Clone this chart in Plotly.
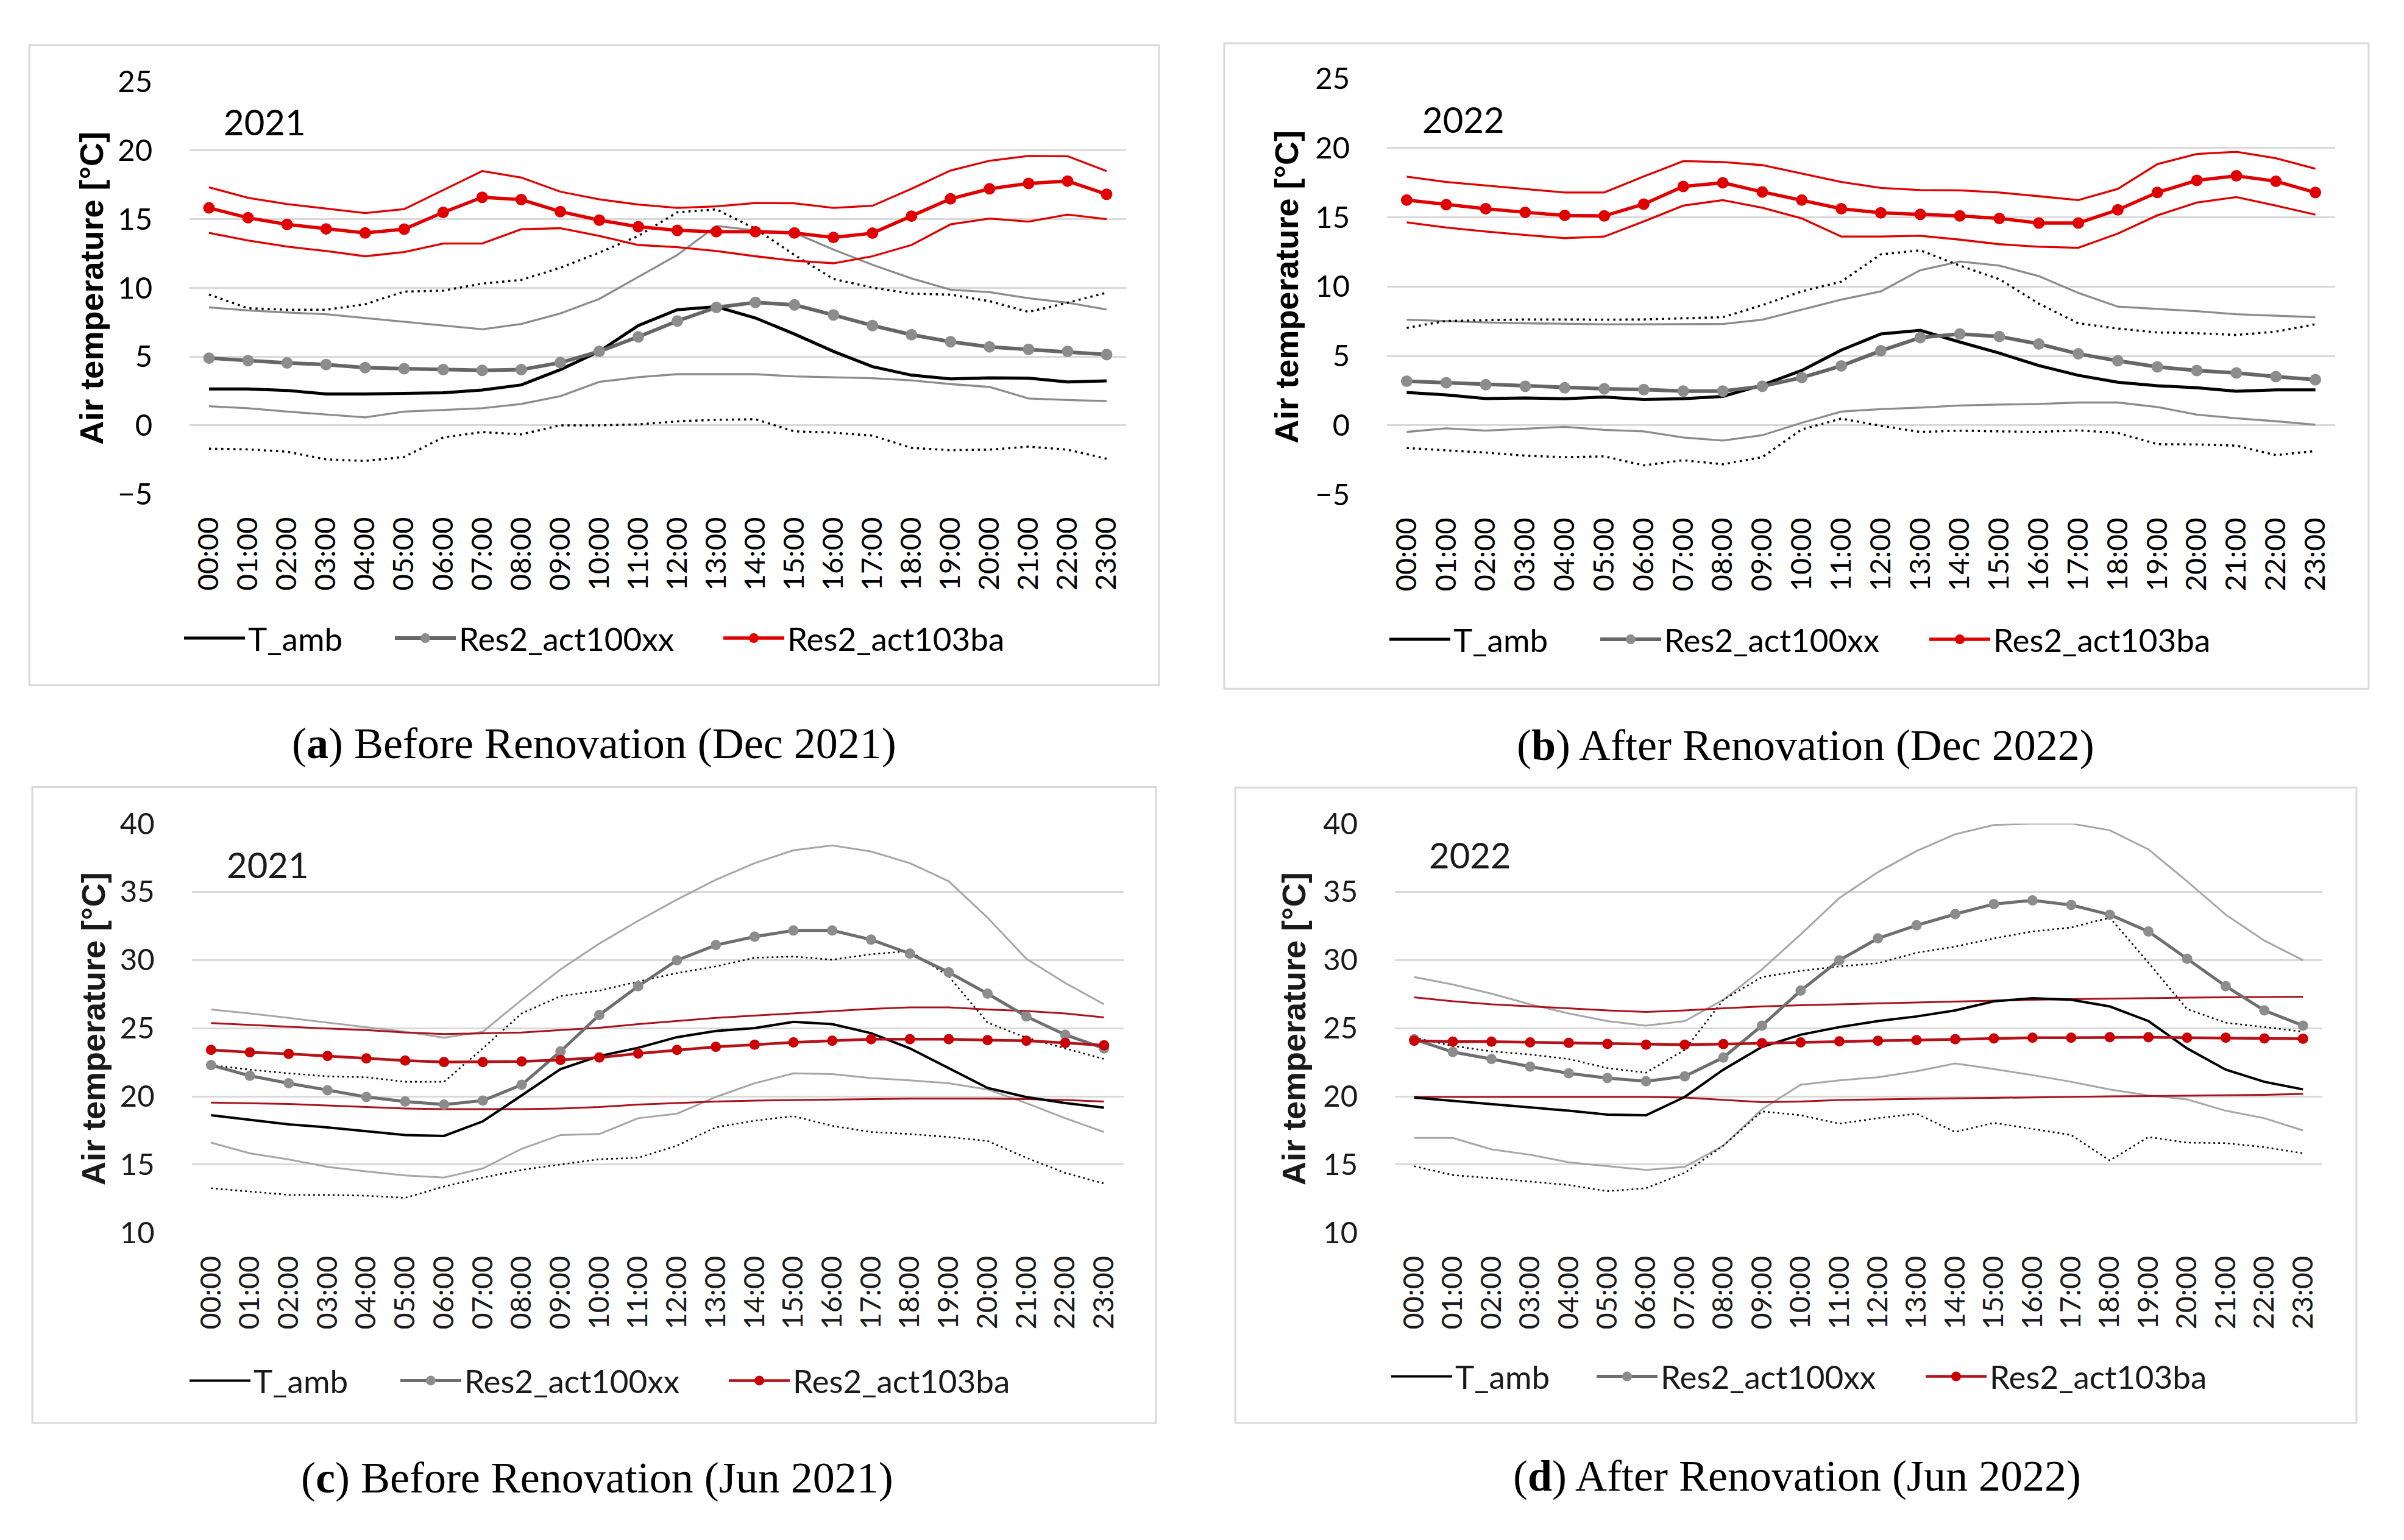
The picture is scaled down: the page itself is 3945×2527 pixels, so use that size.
import plotly.graph_objects as go

W, H = 3945, 2527

hours = ["00:00", "01:00", "02:00", "03:00", "04:00", "05:00", "06:00", "07:00",
         "08:00", "09:00", "10:00", "11:00", "12:00", "13:00", "14:00", "15:00",
         "16:00", "17:00", "18:00", "19:00", "20:00", "21:00", "22:00", "23:00"]

# ---------------- (a) Dec 2021 ----------------
a_tamb = [2.65, 2.65, 2.54, 2.28, 2.28, 2.30, 2.37, 2.57, 2.94, 4.05, 5.38, 7.26, 8.41, 8.63, 7.81, 6.64, 5.38, 4.27, 3.65, 3.38, 3.45, 3.43, 3.16, 3.23]
a_tamb_max = [9.51, 8.52, 8.41, 8.41, 8.81, 9.73, 9.80, 10.31, 10.58, 11.46, 12.57, 13.78, 15.50, 15.71, 14.30, 12.40, 10.65, 10.02, 9.58, 9.51, 9.03, 8.25, 8.92, 9.65]
a_tamb_min = [-1.70, -1.75, -1.92, -2.48, -2.59, -2.30, -0.88, -0.49, -0.66, 0.00, 0.00, 0.07, 0.29, 0.40, 0.44, -0.44, -0.53, -0.75, -1.64, -1.81, -1.77, -1.55, -1.77, -2.43]
a_100 = [4.89, 4.71, 4.54, 4.42, 4.20, 4.12, 4.05, 4.00, 4.05, 4.56, 5.38, 6.44, 7.59, 8.58, 8.94, 8.76, 8.03, 7.26, 6.59, 6.08, 5.71, 5.53, 5.38, 5.15]
a_100_max = [8.58, 8.36, 8.21, 8.08, 7.81, 7.54, 7.26, 6.99, 7.37, 8.14, 9.20, 10.80, 12.39, 14.51, 14.18, 14.00, 12.79, 11.68, 10.69, 9.87, 9.69, 9.25, 8.92, 8.43]
a_100_min = [1.39, 1.24, 1.00, 0.80, 0.58, 1.00, 1.13, 1.24, 1.55, 2.12, 3.16, 3.50, 3.72, 3.72, 3.72, 3.56, 3.50, 3.43, 3.27, 3.00, 2.79, 1.95, 1.84, 1.77]
a_103 = [15.82, 15.10, 14.62, 14.29, 14.00, 14.27, 15.49, 16.59, 16.42, 15.55, 14.93, 14.45, 14.18, 14.09, 14.09, 14.00, 13.67, 13.98, 15.22, 16.48, 17.21, 17.60, 17.77, 16.81]
a_103_max = [17.32, 16.55, 16.10, 15.77, 15.44, 15.73, 17.10, 18.50, 18.03, 17.00, 16.44, 16.06, 15.82, 15.93, 16.17, 16.15, 15.82, 15.97, 17.21, 18.54, 19.25, 19.60, 19.58, 18.50]
a_103_min = [14.00, 13.45, 13.00, 12.68, 12.30, 12.61, 13.23, 13.23, 14.27, 14.34, 13.78, 13.12, 12.96, 12.68, 12.30, 11.97, 11.79, 12.30, 13.12, 14.62, 15.04, 14.82, 15.33, 15.00]

# ---------------- (b) Dec 2022 ----------------
b_tamb = [2.37, 2.19, 1.93, 1.97, 1.91, 2.04, 1.86, 1.91, 2.08, 2.90, 3.95, 5.42, 6.58, 6.84, 6.00, 5.20, 4.30, 3.60, 3.10, 2.85, 2.70, 2.45, 2.55, 2.55]
b_tamb_max = [7.02, 7.52, 7.57, 7.63, 7.63, 7.61, 7.63, 7.72, 7.79, 8.66, 9.65, 10.35, 12.32, 12.61, 11.51, 10.53, 8.77, 7.35, 6.97, 6.69, 6.64, 6.51, 6.75, 7.28]
b_tamb_min = [-1.64, -1.80, -1.97, -2.19, -2.30, -2.24, -2.89, -2.52, -2.81, -2.30, -0.30, 0.48, -0.04, -0.48, -0.39, -0.44, -0.48, -0.37, -0.55, -1.36, -1.38, -1.47, -2.15, -1.86]
b_100 = [3.18, 3.07, 2.92, 2.81, 2.70, 2.63, 2.57, 2.46, 2.46, 2.81, 3.44, 4.28, 5.37, 6.32, 6.58, 6.40, 5.86, 5.15, 4.65, 4.21, 3.95, 3.77, 3.51, 3.29]
b_100_max = [7.61, 7.50, 7.41, 7.35, 7.30, 7.28, 7.28, 7.28, 7.30, 7.61, 8.33, 9.06, 9.65, 11.18, 11.80, 11.51, 10.75, 9.54, 8.55, 8.40, 8.22, 8.00, 7.89, 7.79]
b_100_min = [-0.48, -0.22, -0.39, -0.26, -0.11, -0.33, -0.44, -0.88, -1.10, -0.72, 0.18, 0.99, 1.16, 1.27, 1.43, 1.49, 1.54, 1.64, 1.64, 1.32, 0.77, 0.50, 0.29, 0.04]
b_103 = [16.23, 15.90, 15.61, 15.35, 15.13, 15.09, 15.94, 17.21, 17.48, 16.82, 16.23, 15.61, 15.31, 15.20, 15.09, 14.91, 14.58, 14.58, 15.53, 16.78, 17.65, 17.98, 17.59, 16.78]
b_103_max = [17.92, 17.54, 17.28, 17.04, 16.78, 16.78, 17.94, 19.04, 18.97, 18.75, 18.16, 17.54, 17.11, 16.95, 16.93, 16.78, 16.51, 16.23, 17.04, 18.82, 19.56, 19.71, 19.25, 18.49]
b_103_min = [14.63, 14.25, 13.97, 13.71, 13.49, 13.60, 14.69, 15.83, 16.23, 15.68, 14.91, 13.60, 13.60, 13.66, 13.38, 13.05, 12.87, 12.79, 13.82, 15.13, 16.05, 16.45, 15.83, 15.18]

# ---------------- (c) Jun 2021 ----------------
c_tamb = [18.62, 18.29, 17.95, 17.73, 17.44, 17.17, 17.10, 18.17, 20.07, 22.00, 22.96, 23.56, 24.34, 24.79, 25.01, 25.46, 25.30, 24.63, 23.52, 22.07, 20.62, 19.95, 19.51, 19.18]
c_tamb_max = [22.29, 21.96, 21.69, 21.47, 21.40, 21.07, 21.07, 23.52, 26.08, 27.35, 27.75, 28.42, 29.04, 29.53, 30.16, 30.25, 30.02, 30.42, 30.65, 28.80, 25.41, 24.30, 23.52, 22.74]
c_tamb_min = [13.27, 13.01, 12.78, 12.78, 12.72, 12.56, 13.39, 14.05, 14.61, 15.01, 15.39, 15.50, 16.39, 17.73, 18.22, 18.55, 17.84, 17.39, 17.24, 17.02, 16.73, 15.50, 14.39, 13.61]
c_100 = [22.29, 21.51, 20.96, 20.45, 19.96, 19.62, 19.40, 19.69, 20.85, 23.30, 25.97, 28.08, 29.98, 31.09, 31.71, 32.16, 32.16, 31.49, 30.47, 29.09, 27.53, 25.86, 24.52, 23.52]
c_100_max = [26.37, 26.08, 25.75, 25.41, 25.08, 24.74, 24.30, 24.74, 27.08, 29.31, 31.20, 32.87, 34.43, 35.88, 37.10, 38.04, 38.40, 37.95, 37.10, 35.77, 33.10, 30.09, 28.31, 26.75]
c_100_min = [16.61, 15.83, 15.38, 14.83, 14.50, 14.21, 14.05, 14.72, 16.16, 17.17, 17.24, 18.40, 18.73, 19.96, 20.96, 21.69, 21.63, 21.34, 21.18, 20.96, 20.51, 19.51, 18.40, 17.39]
c_103 = [23.41, 23.23, 23.12, 22.96, 22.78, 22.63, 22.52, 22.52, 22.56, 22.67, 22.85, 23.14, 23.41, 23.63, 23.79, 23.96, 24.08, 24.19, 24.19, 24.19, 24.12, 24.08, 23.92, 23.74]
c_103_max = [25.37, 25.23, 25.12, 24.97, 24.86, 24.68, 24.57, 24.63, 24.68, 24.86, 25.03, 25.30, 25.52, 25.75, 25.92, 26.08, 26.26, 26.41, 26.53, 26.53, 26.37, 26.26, 26.08, 25.79]
c_103_min = [19.55, 19.51, 19.44, 19.33, 19.22, 19.11, 19.06, 19.06, 19.06, 19.11, 19.22, 19.40, 19.51, 19.62, 19.69, 19.73, 19.78, 19.80, 19.84, 19.84, 19.84, 19.80, 19.73, 19.62]

# ---------------- (d) Jun 2022 ----------------
d_tamb = [19.91, 19.67, 19.44, 19.18, 18.95, 18.66, 18.62, 19.96, 21.96, 23.63, 24.52, 25.08, 25.52, 25.86, 26.30, 26.97, 27.19, 27.08, 26.59, 25.52, 23.52, 21.96, 21.07, 20.51]
d_tamb_max = [24.30, 23.70, 23.30, 23.07, 22.74, 22.07, 21.74, 23.41, 27.08, 28.75, 29.20, 29.53, 29.76, 30.53, 30.98, 31.58, 32.09, 32.38, 33.10, 29.80, 26.40, 25.40, 25.08, 24.74]
d_tamb_min = [14.88, 14.23, 14.01, 13.76, 13.50, 13.05, 13.27, 14.39, 16.39, 18.90, 18.62, 18.00, 18.40, 18.73, 17.39, 18.06, 17.62, 17.17, 15.30, 17.02, 16.61, 16.57, 16.28, 15.83]
d_100 = [24.19, 23.25, 22.74, 22.18, 21.69, 21.34, 21.11, 21.47, 22.85, 25.19, 27.75, 29.98, 31.58, 32.54, 33.36, 34.10, 34.37, 34.03, 33.32, 32.09, 30.09, 28.08, 26.30, 25.19]
d_100_max = [28.75, 28.20, 27.53, 26.75, 26.08, 25.52, 25.19, 25.52, 27.08, 29.31, 31.87, 34.54, 36.44, 37.99, 39.22, 39.89, 40.00, 40.00, 39.51, 38.11, 35.77, 33.32, 31.42, 29.98]
d_100_min = [16.95, 16.95, 16.12, 15.72, 15.17, 14.88, 14.61, 14.83, 16.39, 19.06, 20.85, 21.18, 21.40, 21.85, 22.41, 22.00, 21.56, 21.07, 20.51, 20.07, 19.78, 18.95, 18.40, 17.50]
d_103 = [24.08, 24.01, 24.01, 23.96, 23.92, 23.85, 23.79, 23.79, 23.83, 23.90, 23.96, 24.03, 24.08, 24.12, 24.19, 24.25, 24.30, 24.30, 24.34, 24.34, 24.30, 24.30, 24.25, 24.23]
d_103_max = [27.26, 26.97, 26.75, 26.59, 26.46, 26.30, 26.19, 26.30, 26.46, 26.59, 26.68, 26.75, 26.81, 26.86, 26.93, 27.02, 27.08, 27.13, 27.17, 27.22, 27.24, 27.26, 27.28, 27.31]
d_103_min = [19.96, 19.96, 19.96, 19.96, 19.96, 19.96, 19.96, 19.91, 19.73, 19.58, 19.62, 19.73, 19.78, 19.82, 19.84, 19.89, 19.91, 19.96, 20.00, 20.02, 20.04, 20.07, 20.11, 20.18]

series_names = ["T_amb", "Res2_act100xx", "Res2_act103ba"]
years = ["2021", "2022", "2021", "2022"]
captions = ["(<b>a</b>) Before Renovation (Dec 2021)", "(<b>b</b>) After Renovation (Dec 2022)",
            "(<b>c</b>) Before Renovation (Jun 2021)", "(<b>d</b>) After Renovation (Jun 2022)"]
y_ranges = [[-5, 25], [-5, 25], [10, 40], [10, 40]]
y_ticks = [[-5, 0, 5, 10, 15, 20, 25], [-5, 0, 5, 10, 15, 20, 25],
           [10, 15, 20, 25, 30, 35, 40], [10, 15, 20, 25, 30, 35, 40]]

panels_data = [
    (a_tamb, a_tamb_max, a_tamb_min, a_100, a_100_max, a_100_min, a_103, a_103_max, a_103_min),
    (b_tamb, b_tamb_max, b_tamb_min, b_100, b_100_max, b_100_min, b_103, b_103_max, b_103_min),
    (c_tamb, c_tamb_max, c_tamb_min, c_100, c_100_max, c_100_min, c_103, c_103_max, c_103_min),
    (d_tamb, d_tamb_max, d_tamb_min, d_100, d_100_max, d_100_min, d_103, d_103_max, d_103_min),
]

# ---------------- layout geometry (pixels) ----------------
plot_px = [(311, 1848, 105.5, 798), (2276, 3832, 100, 799),
           (314.5, 1843.6, 1351.4, 2038.7), (2289, 3811, 1351.4, 2038.7)]
box_px = [(48, 44, 1902, 1119), (2009, 41, 3887, 1125), (53, 1290, 1897, 2358), (2027, 1291, 3867, 2358)]
ytitle_px = [(150, 452), (2111, 450), (153, 1696), (2123, 1696)]
year_px = [(434, 172), (2401, 168), (439, 1420), (2412, 1404)]
legend_sym_x = [(302, 648, 1187), (2280, 2626, 3166), (311, 657, 1196), (2283, 2620, 3160)]
legend_y = [1040, 1042, 2287, 2280]
caption_px = [(975, 1217), (2963, 1220), (980, 2450), (2949, 2447)]

styles = [
    dict(dot_w=3.5, dot_dash="3.5px,6.5px", mean_w=5, g_line="#666666", g_mk="#8c8c8c", g_env="#8c8c8c",
         env_w=3.3, r_line="#e00000", r_mk="#e00000", r_env="#e00000", mk=19, r_w=5.5, txt="#000000"),
    dict(dot_w=3.5, dot_dash="3.5px,6.5px", mean_w=5, g_line="#666666", g_mk="#8c8c8c", g_env="#8c8c8c",
         env_w=3.3, r_line="#e00000", r_mk="#e00000", r_env="#e00000", mk=19, r_w=5.5, txt="#000000"),
    dict(dot_w=2.6, dot_dash="3px,5px", mean_w=4, g_line="#6e6e6e", g_mk="#8c8c8c", g_env="#a6a6a6",
         env_w=3, r_line="#b3121b", r_mk="#cc0000", r_env="#a8141e", mk=17, r_w=4.5, txt="#1a1a1a"),
    dict(dot_w=2.6, dot_dash="3px,5px", mean_w=4, g_line="#6e6e6e", g_mk="#8c8c8c", g_env="#a6a6a6",
         env_w=3, r_line="#b3121b", r_mk="#cc0000", r_env="#a8141e", mk=17, r_w=4.5, txt="#1a1a1a"),
]

fig = go.Figure()
layout = dict(width=W, height=H, margin=dict(l=0, r=0, t=0, b=0),
              paper_bgcolor="white", plot_bgcolor="white", showlegend=True,
              annotations=[], shapes=[])


def px_x(x):
    return x / W


def px_y(y):
    return 1 - y / H


for i in range(4):
    sfx = "" if i == 0 else str(i + 1)
    xa, ya = "x" + sfx, "y" + sfx
    st = styles[i]
    (tm, tmx, tmn, g, gmx, gmn, r, rmx, rmn) = panels_data[i]
    leg_names = []
    for j in range(3):
        n = i * 3 + j + 1
        leg_names.append("legend" if n == 1 else "legend" + str(n))

    def add(y, name, line, mode="lines", marker=None, leg=None):
        tr = go.Scatter(x=hours, y=y, name=name, mode=mode, line=line, xaxis=xa, yaxis=ya,
                        showlegend=leg is not None, hoverinfo="skip")
        if leg is not None:
            tr.legend = leg
        if marker is not None:
            tr.marker = marker
        fig.add_trace(tr)

    # envelopes (min / max)
    add(gmx, "Res2_act100xx max", dict(color=st["g_env"], width=st["env_w"]))
    add(gmn, "Res2_act100xx min", dict(color=st["g_env"], width=st["env_w"]))
    add(tmx, "T_amb max", dict(color="#000000", width=st["dot_w"], dash=st["dot_dash"]))
    add(tmn, "T_amb min", dict(color="#000000", width=st["dot_w"], dash=st["dot_dash"]))
    add(rmx, "Res2_act103ba max", dict(color=st["r_env"], width=st["env_w"]))
    add(rmn, "Res2_act103ba min", dict(color=st["r_env"], width=st["env_w"]))
    # means
    add(tm, series_names[0], dict(color="#000000", width=st["mean_w"]), leg=leg_names[0])
    add(g, series_names[1], dict(color=st["g_line"], width=st["mean_w"] + 1), mode="lines+markers",
        marker=dict(color=st["g_mk"], size=st["mk"], symbol="circle"), leg=leg_names[1])
    add(r, series_names[2], dict(color=st["r_line"], width=st["r_w"]), mode="lines+markers",
        marker=dict(color=st["r_mk"], size=st["mk"], symbol="circle"), leg=leg_names[2])

    x0, x1, yt, yb = plot_px[i]
    layout["xaxis" + sfx] = dict(
        domain=[px_x(x0), px_x(x1)], anchor=ya, type="category", range=[-0.5, 23.5],
        tickangle=-90, tickfont=dict(family="Lato", size=47, color=st["txt"]),
        showgrid=False, showline=False, zeroline=False, ticks="outside", ticklen=18,
        tickcolor="rgba(0,0,0,0)", fixedrange=True)
    layout["yaxis" + sfx] = dict(
        domain=[px_y(yb), px_y(yt)], anchor=xa, range=y_ranges[i], tickvals=y_ticks[i],
        tickfont=dict(family="Lato", size=49, color=st["txt"]),
        showgrid=True, gridcolor="#d9d9d9", gridwidth=3, zeroline=False, showline=False,
        ticks="outside", ticklen=50, tickcolor="rgba(0,0,0,0)", fixedrange=True)
    for j in range(3):
        layout[leg_names[j]] = dict(
            orientation="h", x=px_x(legend_sym_x[i][j] - 5), y=px_y(legend_y[i]),
            xanchor="left", yanchor="middle",
            font=dict(family="Lato", size=53, color=st["txt"]), bgcolor="rgba(0,0,0,0)",
            borderwidth=0, itemwidth=100)
    # panel frame
    bx0, by0, bx1, by1 = box_px[i]
    layout["shapes"].append(dict(type="rect", xref="paper", yref="paper",
                                 x0=px_x(bx0), x1=px_x(bx1), y0=px_y(by1), y1=px_y(by0),
                                 line=dict(color="#d9d9d9", width=3), fillcolor="rgba(0,0,0,0)",
                                 layer="below"))
    # y-axis title
    tx, ty = ytitle_px[i]
    layout["annotations"].append(dict(
        text="<b>Air temperature [°C]</b>", xref="paper", yref="paper", x=px_x(tx), y=px_y(ty),
        xanchor="center", yanchor="middle", textangle=-90, showarrow=False,
        font=dict(family="Liberation Sans", size=54, color=st["txt"])))
    # year label
    yx, yy = year_px[i]
    layout["annotations"].append(dict(
        text=years[i], xref="paper", yref="paper", x=px_x(yx), y=px_y(yy),
        xanchor="center", yanchor="middle", showarrow=False,
        font=dict(family="Lato", size=58, color=st["txt"])))
    # caption
    cx, cy = caption_px[i]
    layout["annotations"].append(dict(
        text=captions[i], xref="paper", yref="paper", x=px_x(cx), y=px_y(cy),
        xanchor="center", yanchor="middle", showarrow=False,
        font=dict(family="Liberation Serif", size=72, color="#000000")))

fig.update_layout(**layout)
fig.write_html("out.html", config={"displayModeBar": False, "staticPlot": True},
               post_script="document.body.style.margin='0';")
